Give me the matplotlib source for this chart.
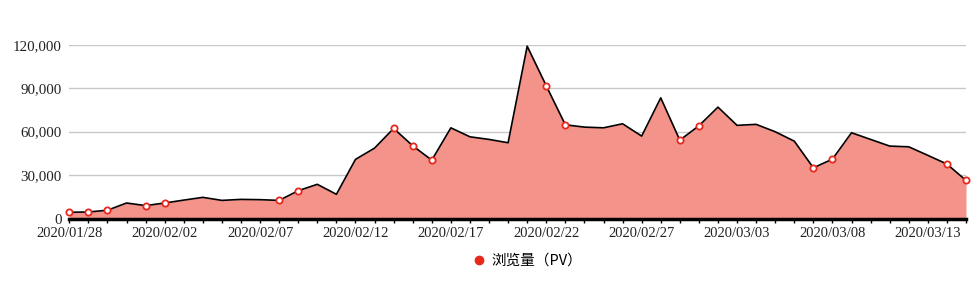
import numpy as np
import pandas as pd
import matplotlib
matplotlib.use('Agg')
import matplotlib.pyplot as plt
from matplotlib.ticker import FuncFormatter

dates = pd.date_range('2020-01-28', '2020-03-15').strftime('%Y/%m/%d').tolist()
pv = [4300, 4500, 5700, 10700, 8900, 10700, 12700, 14600, 12500, 13200,
      13000, 12500, 19200, 23600, 16700, 40800, 48600, 62200, 50200, 40300,
      62600, 56400, 54600, 52300, 119000, 91600, 64700, 63100, 62600, 65400,
      56900, 83300, 54100, 64000, 76900, 64300, 65000, 59900, 53400, 35000,
      41000, 59200, 54600, 50000, 49500, 43600, 37600, 26300]
marked = [0, 1, 2, 4, 5, 11, 12, 17, 18, 19, 25, 26, 32, 33, 39, 40, 46, 47]
series_name = '浏览量（PV）'

fig = plt.figure(figsize=(9.77, 2.83), dpi=100)
ax = fig.add_axes([69.3/977, 1-218.5/283, (966-69.3)/977, (218.5-44.7)/283])

x = np.arange(len(pv))
ax.fill_between(x, pv, 0, color='#f4938a', lw=0, zorder=2)
ax.plot(x, pv, color='black', lw=1.2, zorder=3, clip_on=False)
ax.plot(x[marked], np.array(pv)[marked], 'o', ms=4.5, mfc='white', mec='#e8281c',
        mew=1.3, zorder=4, clip_on=False, ls='none')
# legend handle
ax.plot([], [], 'o', color='#e8281c', ms=6, label=series_name)

ax.set_xlim(0, len(pv) - 1)
ax.set_ylim(0, 120000)
ax.set_yticks([0, 30000, 60000, 90000, 120000])
ax.yaxis.set_major_formatter(FuncFormatter(lambda v, p: f'{int(v):,}'))
ax.set_xticks(x, minor=True)
ax.set_xticks(x[::5])
ax.set_xticklabels(dates[::5])

ax.grid(axis='y', color='#c8c8c8', lw=1, zorder=1)
for s in ['top', 'right', 'left']:
    ax.spines[s].set_visible(False)
ax.spines['bottom'].set_linewidth(2.5)
ax.spines['bottom'].set_zorder(5)
ax.tick_params(axis='y', length=0, pad=5.5, labelsize=10.8, labelcolor='#222222')
ax.tick_params(axis='x', which='both', length=3, width=1, direction='out', pad=3,
               labelsize=10.5, labelcolor='#222222')
for t in ax.get_xticklabels() + ax.get_yticklabels():
    t.set_family('Liberation Serif')

leg = fig.legend(loc='center', bbox_to_anchor=(527/977, 1-261/283), frameon=False,
                 handletextpad=0.4, handlelength=1.0,
                 prop={'family': ['Noto Sans CJK SC', 'DejaVu Sans'], 'size': 10.5})

fig.savefig('out.png', dpi=100)
